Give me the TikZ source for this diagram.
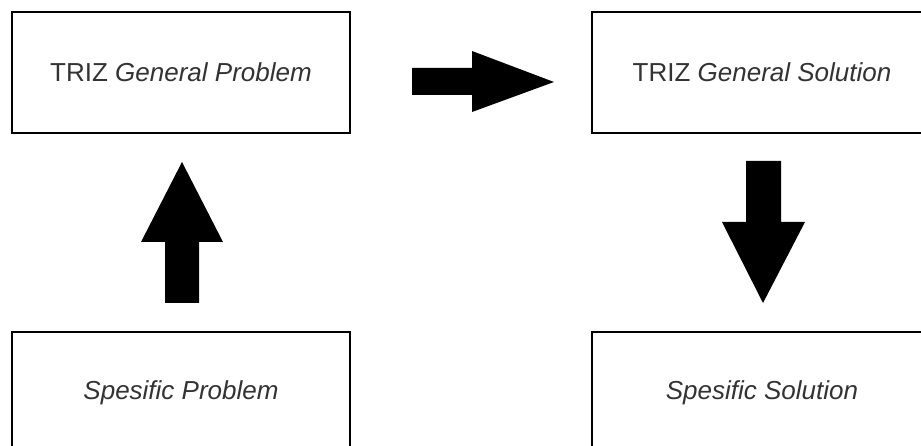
\documentclass[tikz,border=0pt]{standalone}
\usepackage{fontspec}
\setmainfont{Liberation Sans}
\begin{document}
\begin{tikzpicture}[x=1pt,y=-1pt,
  box/.style={draw=black, line width=1.8pt, fill=white, minimum width=338pt, minimum height=121pt, inner sep=0pt, font=\fontsize{26}{30}\selectfont, text=black!80},
  blockarrow/.style={fill=black, draw=none}]
\useasboundingbox (0,0) rectangle (921,446);
\clip (0,0) rectangle (921,446);
\fill[white] (0,0) rectangle (921,446);
\node[box] (gp) at (181,72.5) {TRIZ \textit{General Problem}};
\node[box, minimum width=340pt] (gs) at (762,72.5) {TRIZ \textit{General Solution}};
\node[box] (sp) at (181,392.5) {\textit{Spesific Problem}};
\node[box, minimum width=340pt] (ss) at (762,392.5) {\textit{Spesific Solution}};
% right arrow
\fill[blockarrow] (412,68) -- (472,68) -- (472,51) -- (554,82) -- (472,112) -- (472,95) -- (412,95) -- cycle;
% up arrow
\fill[blockarrow] (165,303) -- (165,242) -- (141,242) -- (182,162) -- (223,242) -- (199,242) -- (199,303) -- cycle;
% down arrow
\fill[blockarrow] (746,161) -- (781,161) -- (781,222) -- (805,222) -- (763,303) -- (722,222) -- (746,222) -- cycle;
\end{tikzpicture}
\end{document}
